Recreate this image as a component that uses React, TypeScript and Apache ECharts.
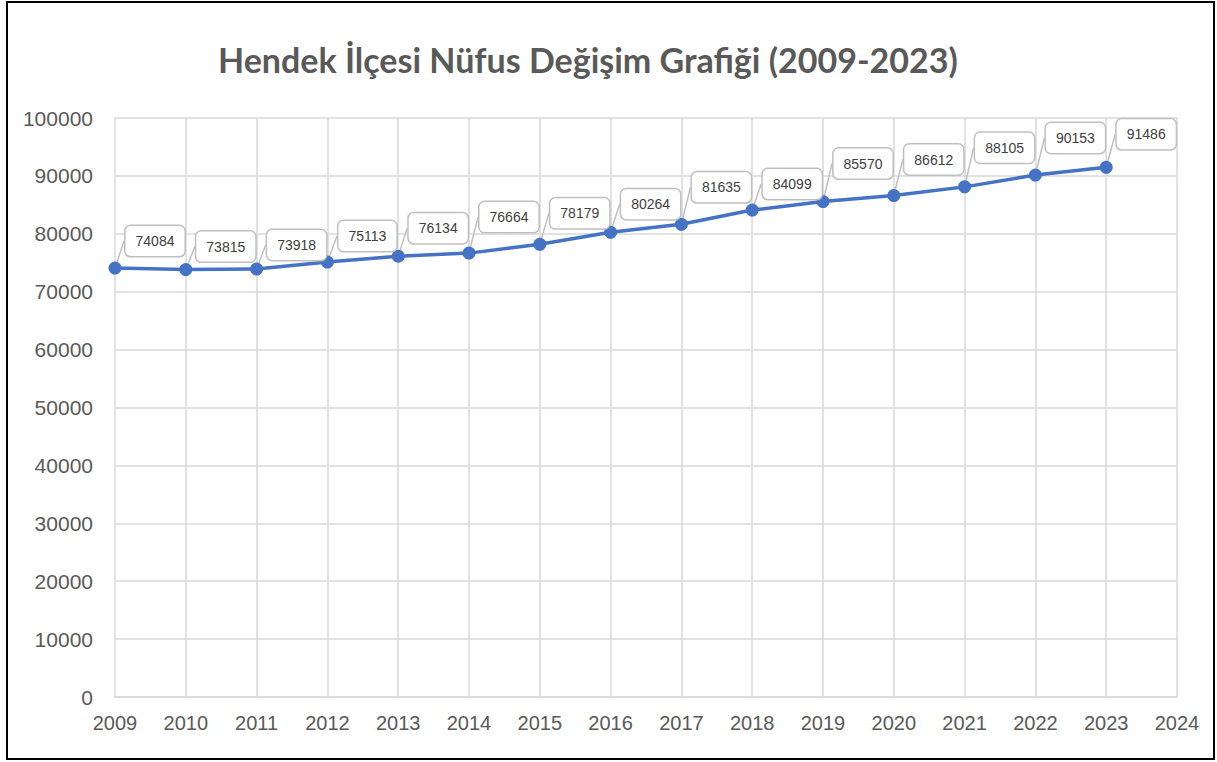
import React, { useEffect, useRef } from "react";
import * as echarts from "echarts";

const years = ["2009","2010","2011","2012","2013","2014","2015","2016","2017","2018","2019","2020","2021","2022","2023","2024"];
const population = [74084, 73815, 73918, 75113, 76134, 76664, 78179, 80264, 81635, 84099, 85570, 86612, 88105, 90153, 91486];
const yTicks = { min: 0, max: 100000, interval: 10000 };
const titleText = "Hendek İlçesi Nüfus Değişim Grafiği (2009-2023)";

const labelDy = [-27, -23, -24, -26, -28, -36, -31, -28, -37, -26, -38, -36, -39, -37, -33];

export default function App() {
  const ref = useRef<HTMLDivElement>(null);
  useEffect(() => {
    if (!ref.current) return;
    const chart = echarts.init(ref.current, null, { renderer: "svg" });
    chart.setOption({
      animation: false,
      backgroundColor: "#ffffff",
      title: {
        text: titleText,
        left: 213,
        top: 37,
        textStyle: { fontFamily: "Lato", fontWeight: "bold", fontSize: 34, color: "#595959" },
      },
      graphic: [
        {
          type: "rect",
          shape: { x: 7, y: 2, width: 1207, height: 757 },
          style: { fill: "none", stroke: "#000000", lineWidth: 2 },
          silent: true,
        },
      ],
      grid: { left: 115, right: 40, top: 118, bottom: 65, containLabel: false },
      xAxis: {
        type: "category",
        data: years,
        boundaryGap: false,
        axisLine: { lineStyle: { color: "#d9d9d9", width: 1.5 } },
        axisTick: { show: false },
        axisLabel: { color: "#595959", fontSize: 20, fontFamily: "Liberation Sans", margin: 16 },
        splitLine: { show: true, lineStyle: { color: "#d9d9d9", width: 1.5 } },
      },
      yAxis: {
        type: "value",
        min: yTicks.min,
        max: yTicks.max,
        interval: yTicks.interval,
        axisLine: { show: false },
        axisTick: { show: false },
        axisLabel: {
          color: "#595959",
          fontSize: 21,
          fontFamily: "Liberation Sans",
          margin: 22,
          formatter: (v: number) => String(v),
        },
        splitLine: { lineStyle: { color: "#d9d9d9", width: 1.5 } },
      },
      series: [
        {
          type: "line",
          data: population,
          symbol: "circle",
          symbolSize: 13,
          itemStyle: { color: "#4472C4" },
          lineStyle: { color: "#4472C4", width: 3.5 },
          label: {
            show: true,
            position: "inside",
            color: "#404040",
            fontSize: 14,
            fontFamily: "Liberation Sans",
            backgroundColor: "#ffffff",
            borderColor: "#bfbfbf",
            borderWidth: 1.5,
            borderRadius: 5,
            padding: [8, 10],
          },
          labelLine: { show: true, lineStyle: { color: "#bfbfbf", width: 1.5 } },
          labelLayout: (params: any) => ({ dx: 40, dy: labelDy[params.dataIndex] ?? -30 }),
          z: 3,
        },
      ],
    });
    return () => chart.dispose();
  }, []);
  return (
    <div
      ref={ref}
      style={{ position: "fixed", left: 0, top: 0, width: 1217, height: 762 }}
    />
  );
}
